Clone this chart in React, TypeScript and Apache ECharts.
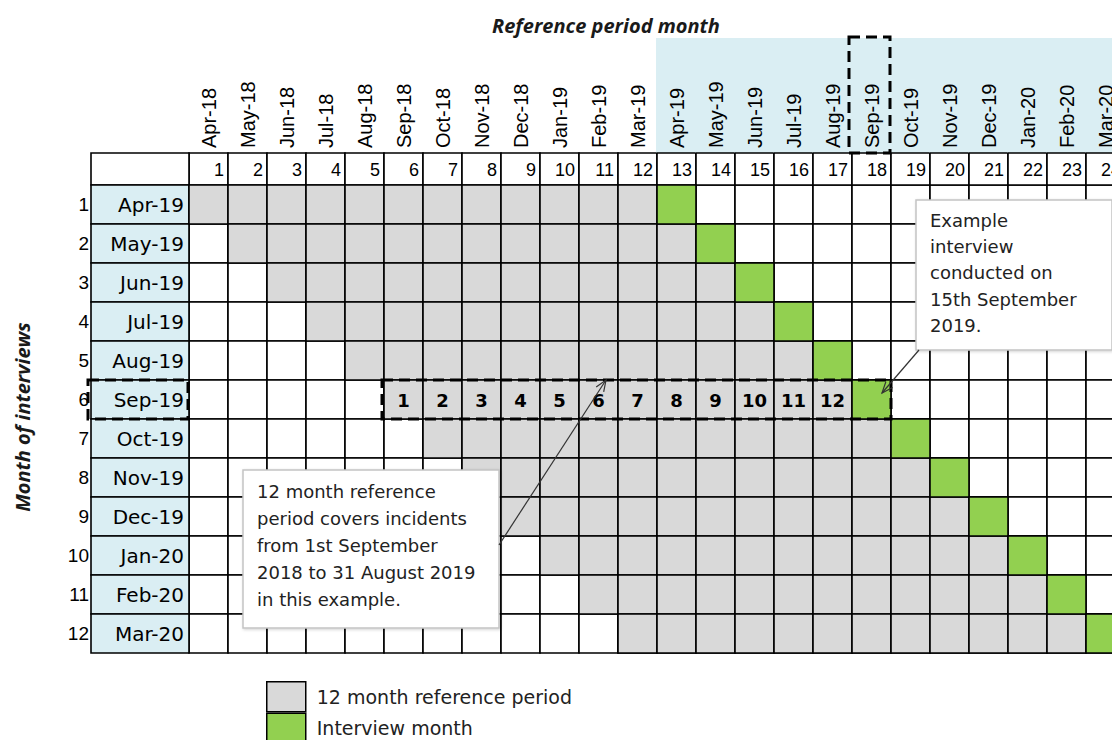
import React, { useEffect, useRef } from 'react';
import * as echarts from 'echarts';

// ---------- data ----------
const columnMonths = ['Apr-18', 'May-18', 'Jun-18', 'Jul-18', 'Aug-18', 'Sep-18', 'Oct-18', 'Nov-18', 'Dec-18', 'Jan-19', 'Feb-19', 'Mar-19', 'Apr-19', 'May-19', 'Jun-19', 'Jul-19', 'Aug-19', 'Sep-19', 'Oct-19', 'Nov-19', 'Dec-19', 'Jan-20', 'Feb-20', 'Mar-20'];
const columnNumbers = [1, 2, 3, 4, 5, 6, 7, 8, 9, 10, 11, 12, 13, 14, 15, 16, 17, 18, 19, 20, 21, 22, 23, 24];
const rowMonths = ['Apr-19', 'May-19', 'Jun-19', 'Jul-19', 'Aug-19', 'Sep-19', 'Oct-19', 'Nov-19', 'Dec-19', 'Jan-20', 'Feb-20', 'Mar-20'];
const rowNumbers = [1, 2, 3, 4, 5, 6, 7, 8, 9, 10, 11, 12];
const interviewColumn = [13, 14, 15, 16, 17, 18, 19, 20, 21, 22, 23, 24];
const referencePeriodLength = 12;
const exampleRowIndex = 5; // Sep-19
const legendNames = ['12 month reference period', 'Interview month'];
const calloutLeftLines = ['12 month reference', 'period covers incidents', 'from 1st September', '2018 to 31 August 2019', 'in this example.'];
const calloutRightLines = ['Example', 'interview', 'conducted on', '15th September', '2019.'];

// ---------- styles ----------
const GRAY = '#D9D9D9';
const GREEN = '#92D050';
const BLUE = '#DAEEF3';
const LINE_W = 1.6;
const HEADER_H = 32;
const LABEL_W = 98;
const BAND_TOP = 38;

const baseCells: number[][] = [];
rowMonths.forEach((_, r) => columnMonths.forEach((__, c) => baseCells.push([c, r])));
const grayCells: number[][] = [];
const greenCells: number[][] = [];
interviewColumn.forEach((ic, r) => {
  for (let k = 0; k < referencePeriodLength; k++) {
    const col = ic - referencePeriodLength + k; // 1-based
    grayCells.push([col - 1, r, k + 1]);
  }
  greenCells.push([ic - 1, r]);
});

function cellRect(api: any, c: number, r: number) {
  const p = api.coord([c, r]);
  const s = api.size([1, 1]);
  return { x: p[0] - s[0] / 2, y: p[1] - s[1] / 2, width: s[0], height: s[1] };
}

function arrow(x1: number, y1: number, x2: number, y2: number) {
  const a = Math.atan2(y2 - y1, x2 - x1);
  const L = 12;
  const sp = 0.38;
  return [
    { type: 'line', z: 100, shape: { x1, y1, x2, y2 }, style: { stroke: '#333', lineWidth: 1.2 } },
    {
      type: 'polyline', z: 100,
      shape: { points: [[x2 - L * Math.cos(a - sp), y2 - L * Math.sin(a - sp)], [x2, y2], [x2 - L * Math.cos(a + sp), y2 - L * Math.sin(a + sp)]] },
      style: { stroke: '#333', fill: 'none', lineWidth: 1.2 },
    },
  ];
}

function callout(x: number, y: number, w: number, h: number, lines: string[], tx: number, ty: number, lh: number) {
  return [
    {
      type: 'rect', z: 100, shape: { x, y, width: w, height: h },
      style: { fill: '#fff', stroke: '#c4c4c4', lineWidth: 1.5, shadowBlur: 3, shadowColor: 'rgba(0,0,0,0.18)', shadowOffsetX: 1, shadowOffsetY: 1 },
    },
    {
      type: 'text', z: 101, x: tx, y: ty,
      style: { text: lines.join('\n'), fontFamily: 'DejaVu Sans', fontSize: 18, lineHeight: lh, fill: '#222' },
    },
  ];
}

export default function App() {
  const ref = useRef<HTMLDivElement>(null);
  useEffect(() => {
    document.body.style.margin = '0';
    const chart = echarts.init(ref.current!, undefined, { renderer: 'svg' });
    const option: any = {
      animation: false,
      backgroundColor: '#fff',
      title: {
        text: 'Reference period month',
        left: 487, top: 10,
        textStyle: { fontFamily: 'Open Sans', fontStyle: 'italic', fontWeight: 'bold', fontSize: 20, color: '#1a1a1a' },
      },
      legend: {
        orient: 'vertical', left: 266, top: 681, height: 120, width: 400, padding: 0,
        itemWidth: 39, itemHeight: 30, itemGap: 0, icon: 'rect', selectedMode: false,
        data: [
          { name: legendNames[0], itemStyle: { color: GRAY } },
          { name: legendNames[1], itemStyle: { color: GREEN } },
        ],
        itemStyle: { borderColor: '#000', borderWidth: 1.5 },
        textStyle: { fontFamily: 'DejaVu Sans', fontSize: 19, color: '#222', padding: [0, 0, 0, 6] },
      },
      grid: { left: 189, top: 185, width: 936, height: 468, show: false, outerBoundsMode: 'none', containLabel: false },
      xAxis: {
        type: 'category', data: columnMonths, position: 'top', z: 10,
        axisLine: { show: false }, axisTick: { show: false }, splitLine: { show: false },
        axisLabel: { interval: 0, rotate: -90, margin: 37, fontFamily: 'Liberation Sans', fontSize: 20, color: '#000' },
      },
      yAxis: {
        type: 'category', data: rowMonths, inverse: true, z: 10,
        axisLine: { show: false }, axisTick: { show: false }, splitLine: { show: false },
        axisLabel: {
          interval: 0, margin: 5,
          formatter: (v: string, i: number) => `{n|${rowNumbers[i]}}{m|${v}}`,
          rich: {
            n: { fontFamily: 'Liberation Sans', fontSize: 19, color: '#000', padding: [0, 5, 0, 0] },
            m: { fontFamily: 'DejaVu Sans', fontSize: 20, color: '#000', width: 90, align: 'right' },
          },
        },
      },
      series: [
        {
          type: 'custom', name: 'base', z: 1, data: baseCells,
          renderItem: (params: any, api: any) => ({
            type: 'rect', shape: cellRect(api, api.value(0), api.value(1)),
            style: { fill: '#fff', stroke: '#000', lineWidth: LINE_W },
          }),
        },
        {
          type: 'custom', name: 'header', z: 2, data: columnNumbers.map((n, i) => [i, 0, n]),
          renderItem: (params: any, api: any) => {
            const cs = params.coordSys;
            const p = api.coord([api.value(0), 0]);
            const w = api.size([1, 1])[0];
            const x0 = p[0] - w / 2;
            const top = cs.y - HEADER_H;
            const children: any[] = [];
            if (api.value(2) >= interviewColumn[0]) {
              children.push({ type: 'rect', shape: { x: x0 - 1, y: BAND_TOP, width: w + 2, height: top - BAND_TOP }, style: { fill: BLUE } });
            }
            children.push({ type: 'rect', shape: { x: x0, y: top, width: w, height: HEADER_H }, style: { fill: '#fff', stroke: '#000', lineWidth: LINE_W } });
            children.push({ type: 'text', style: { text: String(api.value(2)), x: x0 + w - 4, y: top + HEADER_H / 2 + 1, align: 'right', verticalAlign: 'middle', fontFamily: 'Liberation Sans', fontSize: 18, fill: '#000' } });
            if (params.dataIndex === 0) {
              children.push({ type: 'rect', shape: { x: cs.x - LABEL_W, y: top, width: LABEL_W, height: HEADER_H }, style: { fill: '#fff', stroke: '#000', lineWidth: LINE_W } });
            }
            return { type: 'group', children };
          },
        },
        {
          type: 'custom', name: 'rowLabels', z: 2, data: rowMonths.map((_, i) => [0, i]),
          renderItem: (params: any, api: any) => {
            const cs = params.coordSys;
            const r = cellRect(api, 0, api.value(1));
            return { type: 'rect', shape: { x: cs.x - LABEL_W, y: r.y, width: LABEL_W, height: r.height }, style: { fill: BLUE, stroke: '#000', lineWidth: LINE_W } };
          },
        },
        {
          type: 'custom', name: legendNames[0], z: 3, data: grayCells, itemStyle: { color: GRAY },
          renderItem: (params: any, api: any) => {
            const r = cellRect(api, api.value(0), api.value(1));
            const children: any[] = [{ type: 'rect', shape: r, style: { fill: GRAY, stroke: '#000', lineWidth: LINE_W } }];
            if (api.value(1) === exampleRowIndex) {
              children.push({ type: 'text', style: { text: String(api.value(2)), x: r.x + r.width / 2, y: r.y + r.height / 2 + 1, align: 'center', verticalAlign: 'middle', fontFamily: 'DejaVu Sans', fontWeight: 'bold', fontSize: 18, fill: '#000' } });
            }
            return { type: 'group', children };
          },
        },
        {
          type: 'custom', name: legendNames[1], z: 3, data: greenCells, itemStyle: { color: GREEN },
          renderItem: (params: any, api: any) => ({
            type: 'rect', shape: cellRect(api, api.value(0), api.value(1)),
            style: { fill: GREEN, stroke: '#000', lineWidth: LINE_W },
          }),
        },
        {
          type: 'custom', name: 'example', z: 5,
          data: [[interviewColumn[exampleRowIndex] - referencePeriodLength - 1, exampleRowIndex, interviewColumn[exampleRowIndex] - 1]],
          renderItem: (params: any, api: any) => {
            const cs = params.coordSys;
            const a = cellRect(api, api.value(0), api.value(1));
            const b = cellRect(api, api.value(2), api.value(1));
            const dash = { fill: 'none', stroke: '#000', lineWidth: 3, lineDash: [11, 6] };
            return {
              type: 'group',
              children: [
                { type: 'rect', shape: { x: a.x - 2, y: a.y, width: b.x + b.width - a.x + 2, height: a.height }, style: dash },
                { type: 'rect', shape: { x: cs.x - LABEL_W - 3, y: a.y, width: LABEL_W + 2, height: a.height }, style: dash },
                { type: 'rect', shape: { x: b.x - 3, y: BAND_TOP - 1, width: b.width + 2, height: cs.y - HEADER_H - BAND_TOP + 1 }, style: dash },
              ],
            };
          },
        },
      ],
      graphic: [
        {
          type: 'text', z: 100, x: 22, y: 417, rotation: Math.PI / 2,
          style: { text: 'Month of interviews', fontFamily: 'Open Sans', fontStyle: 'italic', fontWeight: 'bold', fontSize: 20, fill: '#1a1a1a', align: 'center', verticalAlign: 'middle' },
        },
        ...callout(243, 470, 256, 158, calloutLeftLines, 257, 478, 27),
        ...callout(916, 200, 196, 150, calloutRightLines, 930, 207, 26.3),
        ...arrow(499, 545, 606, 380),
        ...arrow(919, 350, 882, 393),
      ],
    };
    chart.setOption(option);
    return () => chart.dispose();
  }, []);
  return <div ref={ref} style={{ position: 'fixed', left: 0, top: 0, width: 1112, height: 740 }} />;
}
